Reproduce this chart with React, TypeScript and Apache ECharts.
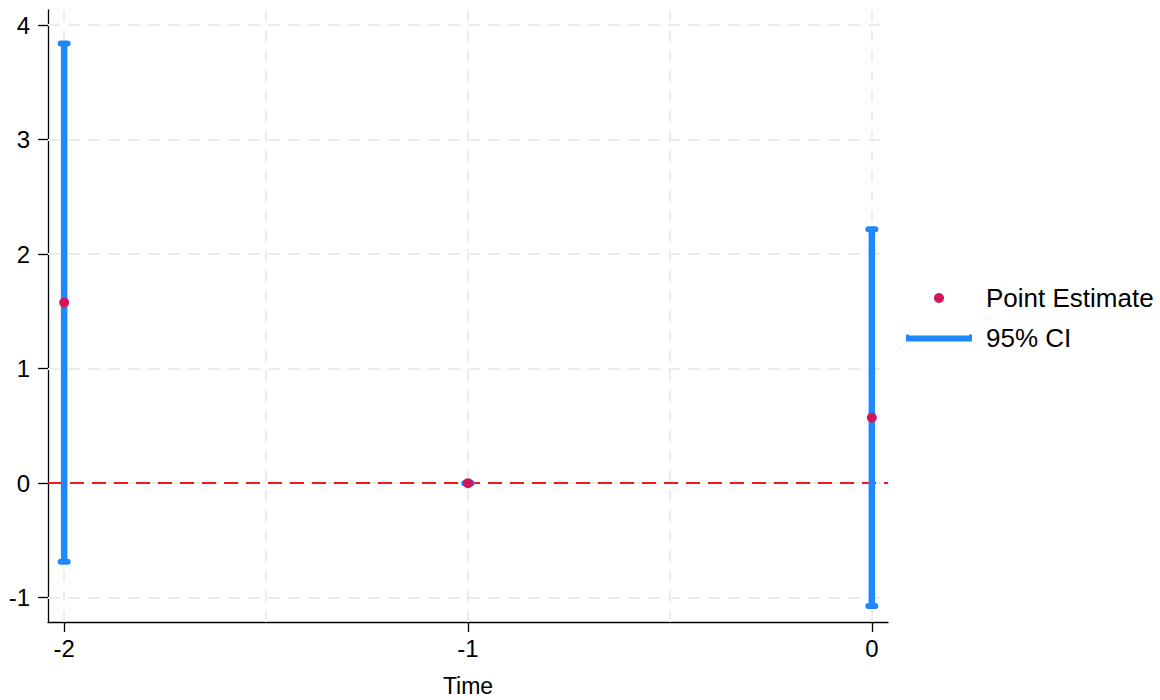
import React, { useEffect, useRef } from "react";
import * as echarts from "echarts";

const times = [-2, -1, 0];
const estimates = [1.577, 0, 0.572];
const ciLow = [-0.686, 0, -1.072];
const ciHigh = [3.838, 0, 2.217];
const xTicks = [-2, -1, 0];
const yTicks = [-1, 0, 1, 2, 3, 4];
const xGrid = [-2, -1.5, -1, -0.5, 0];
const yGrid = [-1, 0, 1, 2, 3, 4];

const BLUE = "#1e88ff";
const DOT = "#d5135a";
const FONT = "Liberation Sans, Arial, Helvetica, sans-serif";

export default function App() {
  const ref = useRef<HTMLDivElement>(null);
  useEffect(() => {
    if (!ref.current) return;
    const chart = echarts.init(ref.current, null, { renderer: "svg" });
    const gridStyle = { color: "#ececec", width: 2, type: [12, 8] as any };
    const ciData = times.map((t, i) => [t, ciLow[i], ciHigh[i]]);
    const ptData = times.map((t, i) => [t, estimates[i]]);
    chart.setOption({
      animation: false,
      backgroundColor: "#ffffff",
      textStyle: { fontFamily: FONT },
      grid: { left: 48, right: 272, top: 10, bottom: 78, containLabel: false, outerBoundsMode: "none" },
      legend: {
        orient: "vertical",
        left: 906,
        top: 283,
        padding: 0,
        itemWidth: 66,
        itemHeight: 10,
        itemGap: 10,
        selectedMode: false,
        textStyle: { fontSize: 26, color: "#000", fontFamily: FONT, lineHeight: 30, padding: [0, 0, 0, 9] },
        data: [
          { name: "Point Estimate", icon: "circle", itemStyle: { color: DOT, opacity: 1 } },
          { name: "95% CI", icon: "path://M0,1H3V8H0Z M63,1H66V8H63Z M0,2H66V8H0Z", itemStyle: { color: BLUE } },
        ],
      },
      xAxis: {
        type: "value",
        min: -2.04,
        max: 0.04,
        name: "Time",
        nameLocation: "middle",
        nameGap: 52,
        nameTextStyle: { fontSize: 23, color: "#000", fontFamily: FONT },
        splitLine: { show: false },
        axisLine: { show: true, onZero: false, lineStyle: { color: "#000", width: 1.3 } },
        axisTick: { show: true, length: 10, customValues: xTicks, lineStyle: { color: "#000", width: 1.3 } },
        axisLabel: { customValues: xTicks, fontSize: 24, color: "#000", margin: 14, fontFamily: FONT },
      },
      yAxis: {
        type: "value",
        min: -1.212,
        max: 4.131,
        splitLine: { show: false },
        axisLine: { show: true, onZero: false, lineStyle: { color: "#000", width: 1.3 } },
        axisTick: { show: true, length: 10, customValues: yTicks, lineStyle: { color: "#000", width: 1.3 } },
        axisLabel: { customValues: yTicks, fontSize: 24, color: "#000", margin: 18, fontFamily: FONT },
      },
      series: [
        {
          name: "grid",
          type: "line",
          data: [],
          z: 1,
          silent: true,
          markLine: {
            z: 1,
            silent: true,
            symbol: ["none", "none"],
            label: { show: false },
            emphasis: { disabled: true },
            lineStyle: gridStyle,
            data: [
              ...xGrid.map((v) => ({ xAxis: v, lineStyle: gridStyle })),
              ...yGrid.map((v) => ({ yAxis: v, lineStyle: gridStyle })),
            ],
          },
        },
        {
          name: "zero",
          type: "line",
          data: [],
          z: 2,
          silent: true,
          markLine: {
            z: 2,
            silent: true,
            symbol: ["none", "none"],
            label: { show: false },
            emphasis: { disabled: true },
            data: [{ yAxis: 0, lineStyle: { color: "#f21818", width: 2, type: [14, 8] as any } }],
          },
        },
        {
          name: "95% CI",
          type: "custom",
          z: 3,
          itemStyle: { color: BLUE },
          encode: { x: 0, y: [1, 2] },
          data: ciData,
          renderItem: (params: any, api: any) => {
            const x = api.value(0);
            const p1 = api.coord([x, api.value(1)]);
            const p2 = api.coord([x, api.value(2)]);
            return {
              type: "group",
              children: [
                { type: "line", shape: { x1: p1[0], y1: p1[1], x2: p2[0], y2: p2[1] }, style: { stroke: BLUE, lineWidth: 6.5 } },
                { type: "rect", shape: { x: p1[0] - 6.5, y: p1[1] - 3, width: 13, height: 6, r: 3 }, style: { fill: BLUE } },
                { type: "rect", shape: { x: p2[0] - 6.5, y: p2[1] - 3, width: 13, height: 6, r: 3 }, style: { fill: BLUE } },
              ],
            };
          },
        },
        {
          name: "Point Estimate",
          type: "scatter",
          z: 4,
          symbol: "circle",
          symbolSize: 10,
          itemStyle: { color: DOT, opacity: 1 },
          data: ptData,
        },
      ],
    });
    return () => chart.dispose();
  }, []);
  return <div ref={ref} style={{ width: 1160, height: 700, position: "absolute", left: 0, top: 0 }} />;
}
